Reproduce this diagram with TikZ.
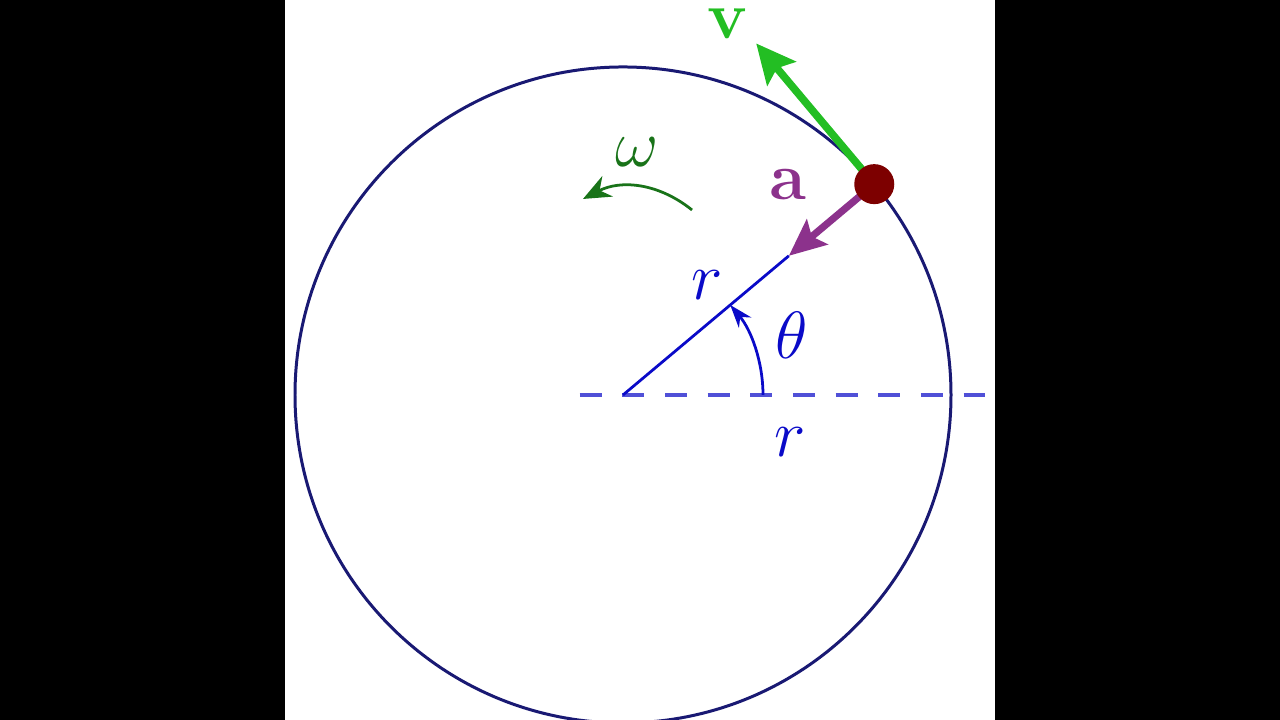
\documentclass[tikz,border=0pt]{standalone}
\usepackage{fix-cm}
\usepackage{amsmath}
\usetikzlibrary{arrows.meta}
\usetikzlibrary{calc}
\definecolor{rimblue}{RGB}{25,25,115}
\definecolor{radblue}{RGB}{10,10,200}
\definecolor{dashblue}{RGB}{80,80,215}
\definecolor{velgreen}{RGB}{35,190,35}
\definecolor{omgreen}{RGB}{25,115,25}
\definecolor{accpurple}{RGB}{140,50,140}
\definecolor{dotred}{RGB}{125,0,0}
\tikzset{
	lbl/.style={font=\fontsize{29}{34}\selectfont, inner sep=0pt},
	vecarrow/.style={line width=3.3pt, -{Stealth[length=17pt,width=16pt,inset=3pt]}},
}

\begin{document}
\begin{tikzpicture}
	% frame 1280x720 px, circle radius 5cm
	\useasboundingbox (-9.497,-4.954) rectangle (10.015,6.021);
	\fill[black] (-9.497,-4.954) rectangle (-5.152,6.021);
	\fill[black] (5.671,-4.954) rectangle (10.015,6.021);
	
	\coordinate (O) at (0,0);
	\coordinate (P) at (40:5);
	\coordinate (A) at (40:3.3);
	\coordinate (V) at ($(P)+(130:2.8)$);
	\coordinate (L) at (-0.66,0);
	\coordinate (R) at (5.671,0);
	\coordinate (T) at (2.134,0);
	\coordinate (W1) at (1.052,2.820);
	\coordinate (W2) at (-0.610,2.988);
	
	% path and axis
	\draw[rimblue, line width=1.3pt] (O) circle (5);
	\draw[dashblue, line width=1.5pt, dash pattern=on 9.5pt off 9pt] (L) -- (R);
	\draw[radblue, line width=1.2pt] (O) -- (A);
	\draw[radblue, line width=1.2pt, -{Stealth[length=10pt,width=7pt]}] (T) arc (0:40:2.134);
	
	% vectors
	\draw[accpurple, vecarrow, -{Stealth[length=16pt,width=14pt,inset=3pt]}, line width=3.1pt] (P) -- (A);
	\draw[velgreen, vecarrow] (P) -- (V);
	\fill[dotred] (P) circle (0.305);
	\draw[omgreen, line width=1.2pt, -{Stealth[length=12pt,width=10pt]}] (W1) to[bend right=33] (W2);
	
	% labels
	\node[lbl, radblue] (r1) at (1.280,1.677) {$r$};
	\node[lbl, radblue] (r2) at (2.546,-0.716) {$r$};
	\node[lbl, radblue] (th) at (2.576,0.915) {$\theta$};
	\node[lbl, omgreen] (om) at (0.213,3.704) {$\omega$};
	\node[lbl, accpurple] (av) at (2.515,3.201) {$\mathbf{a}$};
	\node[lbl, velgreen] (vv) at (1.600,5.660) {$\mathbf{v}$};
\end{tikzpicture}
\end{document}
